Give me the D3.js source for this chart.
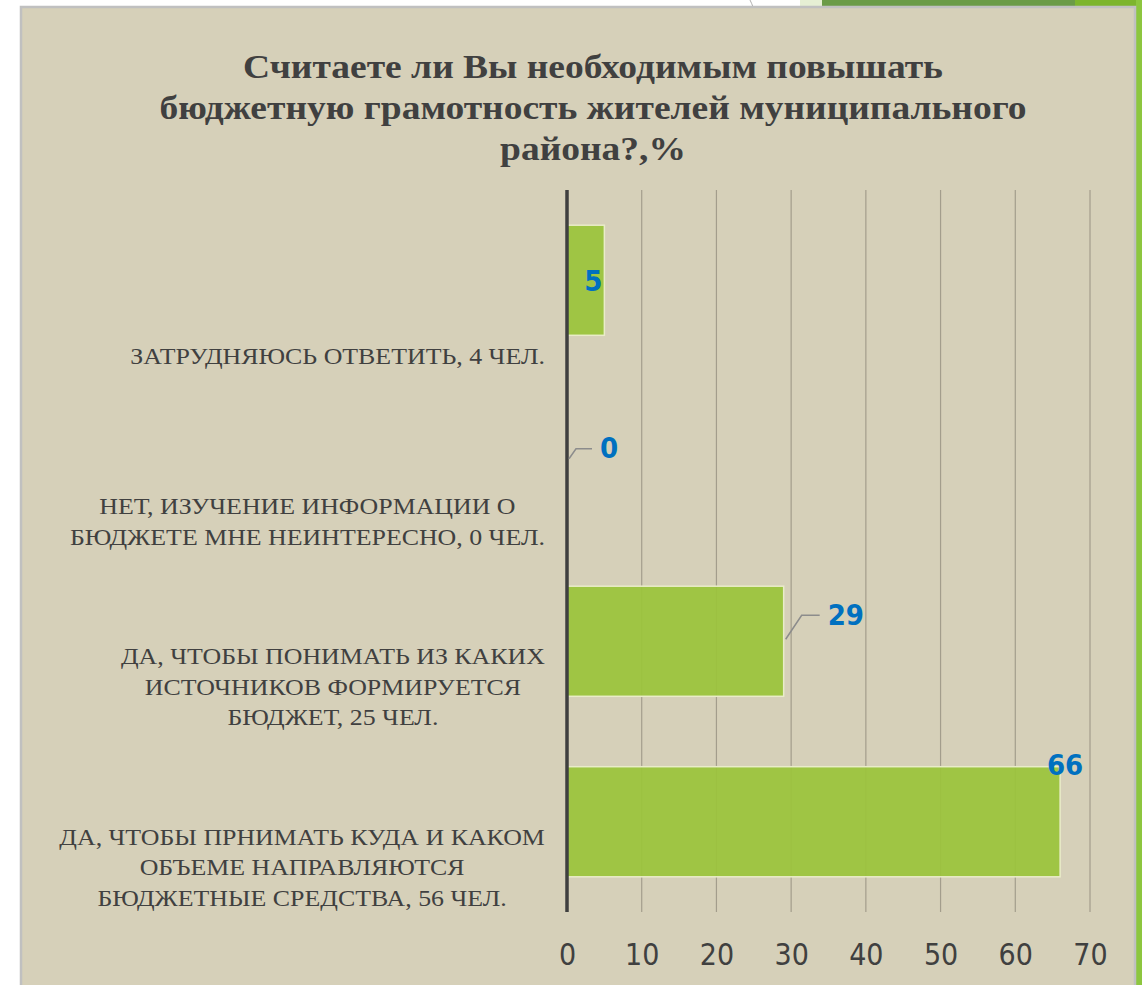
<!DOCTYPE html>
<html>
<head>
<meta charset="utf-8">
<script src="https://cdn.jsdelivr.net/npm/d3@7"></script>
<style>
  body { margin: 0; background: #ffffff; }
  svg { display: block; }
</style>
</head>
<body>
<div id="chart"></div>
<script>
var svgWidth = 1142;
var svgHeight = 985;

// data, top to bottom as in the picture
var categories = [
  ["ЗАТРУДНЯЮСЬ ОТВЕТИТЬ, 4 ЧЕЛ."],
  ["НЕТ, ИЗУЧЕНИЕ ИНФОРМАЦИИ О", "БЮДЖЕТЕ МНЕ НЕИНТЕРЕСНО, 0 ЧЕЛ."],
  ["ДА, ЧТОБЫ ПОНИМАТЬ ИЗ КАКИХ", "ИСТОЧНИКОВ ФОРМИРУЕТСЯ", "БЮДЖЕТ, 25 ЧЕЛ."],
  ["ДА, ЧТОБЫ ПРНИМАТЬ КУДА И КАКОМ", "ОБЪЕМЕ НАПРАВЛЯЮТСЯ", "БЮДЖЕТНЫЕ СРЕДСТВА, 56 ЧЕЛ."]
];
var values = [5, 0, 29, 66];
var xTicks = [0, 10, 20, 30, 40, 50, 60, 70];
var titleLines = [
  "Считаете ли Вы необходимым повышать",
  "бюджетную грамотность жителей муниципального",
  "района?,%"
];

var plot = { left: 567, right: 1090, top: 190, bottom: 912 };
var textColor = "#404040";
// the slide text is a bit wider than plain Times
var titleStretch = 1.103;
var labelStretch = 1.15;

var svg = d3.select("#chart")
  .append("svg")
  .attr("width", svgWidth)
  .attr("height", svgHeight);

// slide decoration around the frame
svg.append("rect").attr("x", 0).attr("y", 0).attr("width", svgWidth).attr("height", svgHeight).attr("fill", "#ffffff");
svg.append("rect").attr("x", 800).attr("y", 0).attr("width", 342).attr("height", 8).attr("fill", "#e6efd4");
svg.append("rect").attr("x", 822).attr("y", 0).attr("width", 320).attr("height", 8).attr("fill", "#6b9b48");
svg.append("rect").attr("x", 1075).attr("y", 0).attr("width", 67).attr("height", 8).attr("fill", "#7db52e");
svg.append("rect").attr("x", 1136).attr("y", 0).attr("width", 6).attr("height", svgHeight).attr("fill", "#8dc63f");
svg.append("path").attr("d", "M750,0 Q752,4 753,7").attr("fill", "none").attr("stroke", "#b0b0b0");

// frame
svg.append("rect")
  .attr("x", 21).attr("y", 7)
  .attr("width", 1114).attr("height", 990)
  .attr("fill", "#d6d0b9")
  .attr("stroke", "#c0c0c0")
  .attr("stroke-width", 2.5);

// title
svg.append("text")
  .attr("transform", `translate(593, 0) scale(${titleStretch}, 1)`)
  .attr("text-anchor", "middle")
  .attr("font-family", "'Liberation Serif', 'Times New Roman', serif")
  .attr("font-weight", "bold")
  .attr("font-size", 34)
  .attr("fill", textColor)
  .selectAll("tspan")
  .data(titleLines)
  .enter()
  .append("tspan")
  .attr("x", 0)
  .attr("y", (d, i) => 78 + i * 41)
  .text(d => d);

var xScale = d3.scaleLinear()
  .domain([0, 70])
  .range([plot.left, plot.right]);

var yScale = d3.scaleBand()
  .domain(d3.range(values.length))
  .range([plot.top, plot.bottom])
  .paddingInner(0.39)
  .paddingOuter(0.195);

var chart = svg.append("g");

// gridlines
chart.append("g")
  .selectAll("line")
  .data(xTicks.slice(1))
  .enter()
  .append("line")
  .attr("x1", d => xScale(d))
  .attr("x2", d => xScale(d))
  .attr("y1", plot.top)
  .attr("y2", plot.bottom)
  .attr("stroke", "#a39d8c")
  .attr("stroke-width", 1.2);

// bars
chart.append("g")
  .selectAll("rect")
  .data(values)
  .enter()
  .append("rect")
  .attr("x", xScale(0))
  .attr("y", (d, i) => yScale(i))
  .attr("width", d => xScale(d) - xScale(0))
  .attr("height", yScale.bandwidth())
  .attr("fill", "#9bc43b")
  .attr("fill-opacity", 0.93)
  .attr("stroke", "#e9ecc9")
  .attr("stroke-width", d => d > 0 ? 1.5 : 0);

// vertical axis line
chart.append("line")
  .attr("x1", xScale(0)).attr("x2", xScale(0))
  .attr("y1", plot.top).attr("y2", plot.bottom)
  .attr("stroke", "#3f3f3f")
  .attr("stroke-width", 3.5);

// x tick labels
var xAxis = d3.axisBottom(xScale)
  .tickValues(xTicks)
  .tickSize(0)
  .tickPadding(28)
  .tickFormat(d3.format("d"));
var xAxisG = chart.append("g")
  .attr("transform", `translate(0, ${plot.bottom})`)
  .call(xAxis);
xAxisG.select(".domain").remove();
xAxisG.selectAll("text")
  .attr("font-family", "'DejaVu Sans Condensed', 'DejaVu Sans', sans-serif")
  .attr("font-size", 30)
  .attr("fill", textColor)
  .attr("dy", "0.32em")
  .attr("y", 43);

// category labels: centered block, widest line ending near the axis
var labelFont = "'Liberation Serif', 'Times New Roman', serif";
var labels = chart.append("g")
  .selectAll("text")
  .data(categories)
  .enter()
  .append("text")
  .attr("font-family", labelFont)
  .attr("font-size", 22.5)
  .attr("fill", textColor)
  .attr("text-anchor", "middle");
labels.each(function(lines, i) {
  var t = d3.select(this);
  var cy = yScale(i) + yScale.bandwidth() / 2;
  var n = lines.length;
  var spans = t.selectAll("tspan")
    .data(lines)
    .enter()
    .append("tspan")
    .attr("x", 0)
    .attr("y", (d, j) => cy + 84 - (n - 1 - j) * 30.5)
    .text(d => d);
  var maxW = 0;
  spans.each(function() { maxW = Math.max(maxW, this.getComputedTextLength()); });
  t.attr("transform", `translate(${545 - maxW * labelStretch / 2}, 0) scale(${labelStretch}, 1)`);
});

// value labels
var valueFont = "'DejaVu Sans Condensed', 'DejaVu Sans', sans-serif";
var valueColor = "#0070c0";
var leaderColor = "#8c8c8c";

values.forEach(function(v, i) {
  var cy = yScale(i) + yScale.bandwidth() / 2;
  var xe = xScale(v);
  var lbl = chart.append("text")
    .attr("font-family", valueFont)
    .attr("font-weight", "bold")
    .attr("font-size", 29)
    .attr("fill", valueColor)
    .attr("dy", "0.36em")
    .text(v);
  if (i === 0) {
    // inside end
    lbl.attr("x", xe - 2).attr("y", cy).attr("text-anchor", "end");
  } else if (i === values.length - 1) {
    // sits on top of the bar end
    lbl.attr("x", xe + 5).attr("y", yScale(i) - 2).attr("text-anchor", "middle");
  } else {
    var dy = v === 0 ? -12 : -26;
    var dx1 = v === 0 ? 9 : 18;
    var dx2 = v === 0 ? 25 : 36;
    chart.append("path")
      .attr("d", `M${xe + 2},${cy - 2} L${xe + dx1},${cy + dy} L${xe + dx2},${cy + dy}`)
      .attr("fill", "none")
      .attr("stroke", leaderColor)
      .attr("stroke-width", 1.5);
    lbl.attr("x", xe + dx2 + 8).attr("y", cy + dy - 1).attr("text-anchor", "start");
  }
});
</script>
</body>
</html>
